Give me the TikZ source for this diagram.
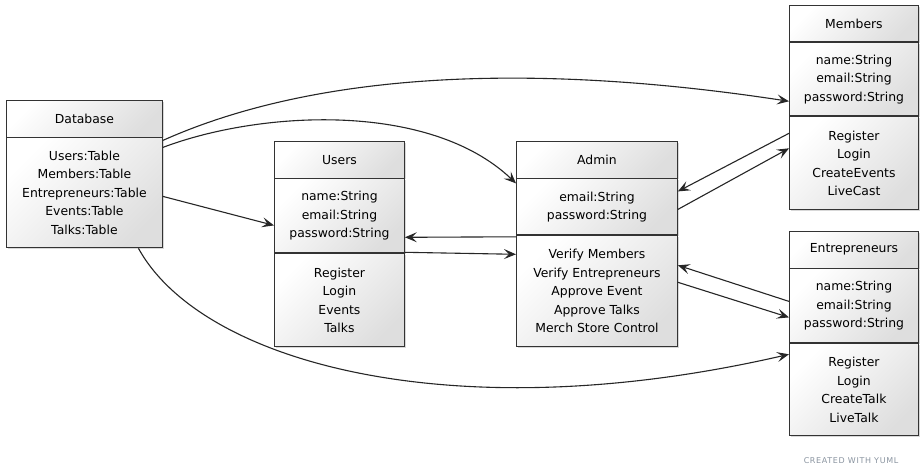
\documentclass[tikz,border=0pt]{standalone}
\usepackage{fontspec}
\setmainfont{DejaVu Sans}
\newfontfamily\notefont[LetterSpace=8]{DejaVu Sans}
\usetikzlibrary{arrows.meta, positioning, shadows}
\definecolor{lineGray}{HTML}{333333}
\definecolor{yumlNote}{HTML}{8A94A0}
\tikzset{%
  >={Stealth[length=12pt, width=10pt, inset=5pt]},
  part/.style = {rectangle, draw = lineGray, line width = 0.9pt, text centered, align = center, inner sep = 0pt, top color = white, bottom color = black!13, shading angle = 45, drop shadow = {shadow xshift = 1.5pt, shadow yshift = -1.5pt, opacity = 0.3}, font = \fontsize{12.4}{18.5}\selectfont},
  head/.style = {part, minimum height = 36.5pt},
  link/.style = {->, draw = black!85, line width = 1.1pt}
}

\begin{document}
\begin{tikzpicture}[x=1pt, y=-1pt]
    \useasboundingbox[fill=white] (0,0) rectangle (923,476);
    % Database
    \node[head, minimum width = 156pt, anchor = north west] at (6,100) (dbHead) {Database};
    \node[part, minimum width = 156pt, minimum height = 110pt, below = 0pt of dbHead] (dbBody) {Users:Table\\Members:Table\\Entrepreneurs:Table\\Events:Table\\Talks:Table};
    % Users
    \node[head, minimum width = 130pt, anchor = north west] at (274,141) (usrHead) {Users};
    \node[part, minimum width = 130pt, minimum height = 74pt, below = 0pt of usrHead] (usrAttr) {name:String\\email:String\\password:String};
    \node[part, minimum width = 130pt, minimum height = 93pt, below = 0pt of usrAttr] (usrMeth) {Register\\Login\\Events\\Talks};
    % Admin
    \node[head, minimum width = 161pt, anchor = north west] at (516,141) (admHead) {Admin};
    \node[part, minimum width = 161pt, minimum height = 56pt, below = 0pt of admHead] (admAttr) {email:String\\password:String};
    \node[part, minimum width = 161pt, minimum height = 111pt, below = 0pt of admAttr] (admMeth) {Verify Members\\Verify Entrepreneurs\\Approve Event\\Approve Talks\\Merch Store Control};
    % Members
    \node[head, minimum width = 129pt, anchor = north west] at (789,5) (memHead) {Members};
    \node[part, minimum width = 129pt, minimum height = 73pt, below = 0pt of memHead] (memAttr) {name:String\\email:String\\password:String};
    \node[part, minimum width = 129pt, minimum height = 93pt, below = 0pt of memAttr] (memMeth) {Register\\Login\\CreateEvents\\LiveCast};
    % Entrepreneurs
    \node[head, minimum width = 129pt, anchor = north west] at (789,231) (entHead) {Entrepreneurs};
    \node[part, minimum width = 129pt, minimum height = 74pt, below = 0pt of entHead] (entAttr) {name:String\\email:String\\password:String};
    \node[part, minimum width = 129pt, minimum height = 92pt, below = 0pt of entAttr] (entMeth) {Register\\Login\\CreateTalk\\LiveTalk};

    \node[font = \notefont\fontsize{8}{8}\selectfont, text = yumlNote] at (851,461) (credit) {CREATED WITH YUML};

    % connectors
    \draw[link] ([yshift=-3pt]dbBody.north east) .. controls +(168,-75) and +(-229,-35) .. ([yshift=15pt]memAttr.south west);
    \draw[link] ([yshift=-10pt]dbBody.north east) .. controls +(98,-37) and +(-86,-82) .. ([yshift=-5pt]admAttr.north west);
    \draw[link] ([yshift=-59pt]dbBody.north east) -- ([yshift=-47pt]usrAttr.north west);
    \draw[link] ([xshift=54pt]dbBody.south) .. controls +(62,113) and +(-339,78) .. ([yshift=-11pt]entMeth.north west);
    \draw[link] ([yshift=-1.5pt]admMeth.north west) -- ([yshift=16pt]usrAttr.south east);
    \draw[link] ([yshift=1pt]usrAttr.south east) -- ([yshift=-19pt]admMeth.north west);
    \draw[link] ([yshift=-17pt]memMeth.north west) -- ([yshift=-13pt]admAttr.north east);
    \draw[link] ([yshift=-31pt]admAttr.north east) -- ([yshift=-32pt]memMeth.north west);
    \draw[link] ([yshift=-33pt]entAttr.north west) -- ([yshift=-30pt]admMeth.north east);
    \draw[link] ([yshift=-47pt]admMeth.north east) -- ([yshift=-49pt]entAttr.north west);
  \end{tikzpicture}
\end{document}
